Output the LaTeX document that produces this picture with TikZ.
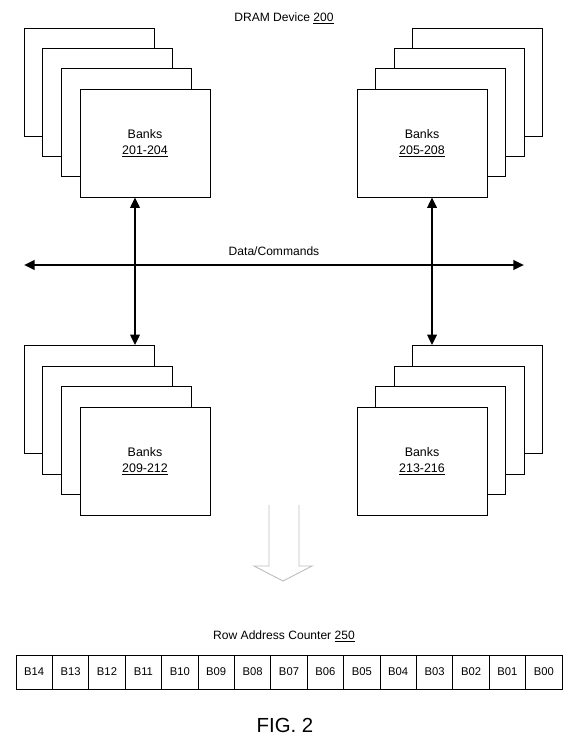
\documentclass[tikz,border=0pt]{standalone}
\usepackage{fontspec}
\setmainfont{Liberation Sans}
\usetikzlibrary{arrows.meta}

\tikzset{
  bank/.style={draw, fill=white, line width=0.65pt, minimum width=3.9cm, minimum height=3.24cm, inner sep=0pt, align=center, font=\fontsize{10.6}{14}\selectfont},
  bus/.style={line width=2.1pt, {Triangle[length=9pt,width=8pt]}-{Triangle[length=9pt,width=8pt]}},
  bit/.style={draw, line width=0.65pt, minimum width=1.092cm, minimum height=1.02cm, inner sep=0pt, font=\fontsize{9.6}{12}\selectfont},
  caption/.style={font=\fontsize{10.3}{12}\selectfont}
}

\begin{document}
\begin{tikzpicture}[x=0.03cm, y=-0.03cm]
\useasboundingbox (0,0) rectangle (573,740);

\node[caption] (dram) at (284,18) {DRAM Device \underline{200}};

\node[bank] (tl1) at (89,82) {};
\node[bank] (tl2) at (107.7,102.3) {};
\node[bank] (tl3) at (126.3,122.7) {};
\node[bank] (tl4) at (145,143) {Banks\\\underline{201-204}};

\node[bank] (tr1) at (477.5,82) {};
\node[bank] (tr2) at (459,102.3) {};
\node[bank] (tr3) at (440.5,122.7) {};
\node[bank] (tr4) at (422,143) {Banks\\\underline{205-208}};

\node[bank] (bl1) at (89,399.5) {};
\node[bank] (bl2) at (107.7,420) {};
\node[bank] (bl3) at (126.3,440.5) {};
\node[bank] (bl4) at (145,461) {Banks\\\underline{209-212}};

\node[bank] (br1) at (477.5,399.5) {};
\node[bank] (br2) at (459,420) {};
\node[bank] (br3) at (440.5,440.5) {};
\node[bank] (br4) at (422,461) {Banks\\\underline{213-216}};

\coordinate (lx) at (135,0);
\coordinate (rx) at (432,0);
\coordinate (busw) at (24,265);
\coordinate (buse) at (524,265);

\draw[bus] (busw) -- (buse) node[midway, above=4pt, caption] (buslabel) {Data/Commands};
\draw[bus] (tl4.south -| lx) -- (bl1.north -| lx);
\draw[bus] (tr4.south -| rx) -- (br1.north -| rx);

\draw[line width=0.8pt, color=black!25] (269,505) -- (269,566) -- (254,566) -- (283,581) -- (312,566) -- (299,566) -- (299,505);

\node[caption] (rac) at (284,636) {Row Address Counter \underline{250}};
\foreach \b [count=\i from 0] in {14,13,12,11,10,09,08,07,06,05,04,03,02,01,00}
  \node[bit] (b\b) at (16+36.4*\i+18.2,672) {B\b};

\node[font=\fontsize{17.4}{20}\selectfont] (fig) at (285,725) {FIG. 2};
\end{tikzpicture}
\end{document}
